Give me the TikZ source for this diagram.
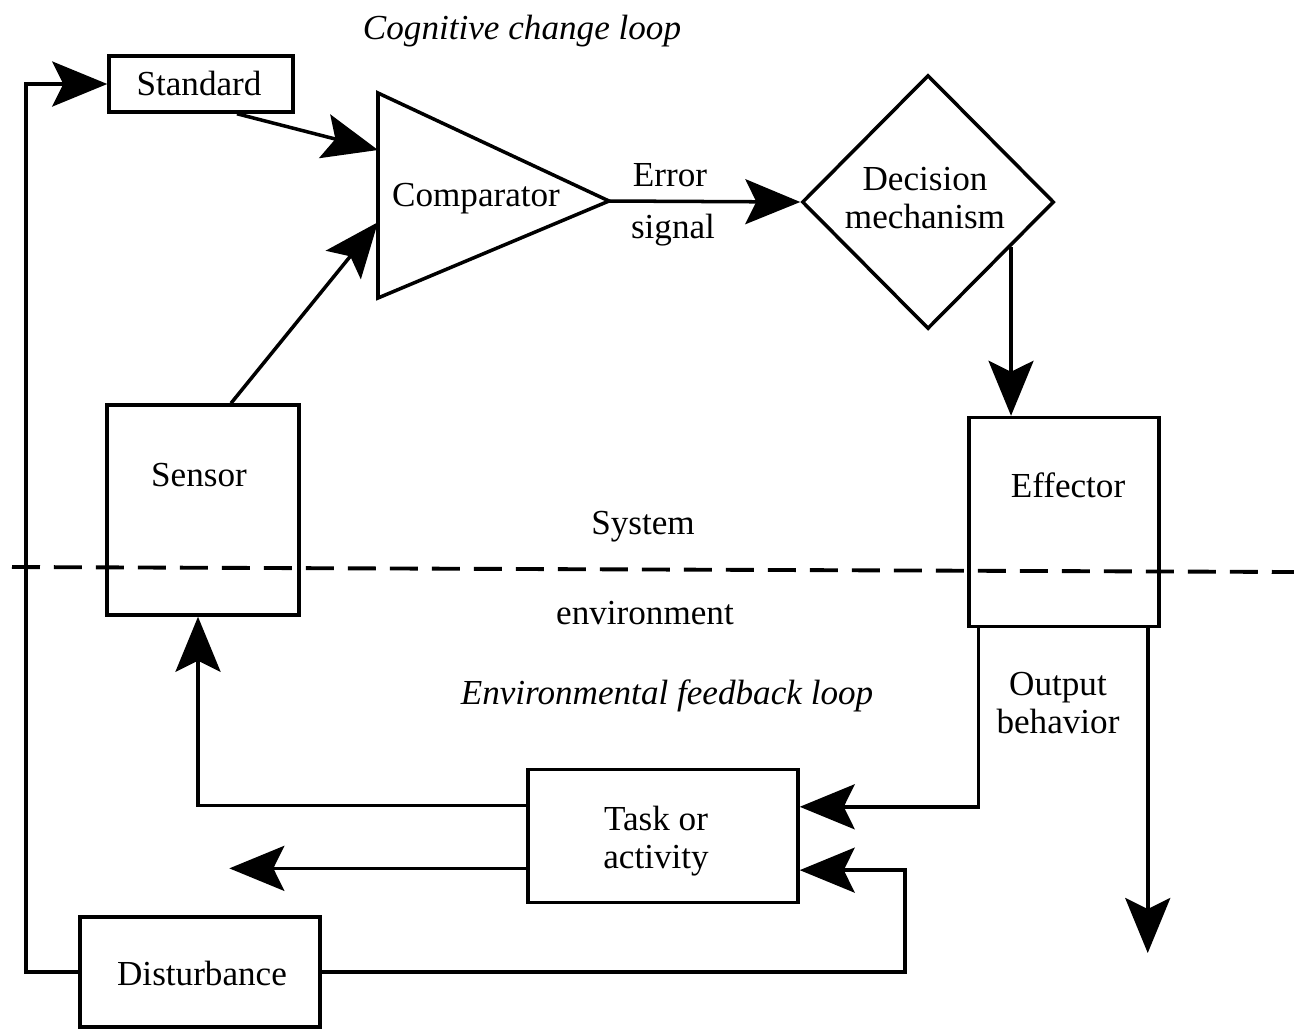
\documentclass[tikz,border=0pt]{standalone}
\usepackage{fontspec}
\setmainfont{Liberation Serif}
\usetikzlibrary{arrows.meta,shapes.geometric,calc}
\begin{document}
\begin{tikzpicture}[x=0.02cm,y=-0.02cm,
  every node/.style={font=\fontsize{20}{21.5}\selectfont},
  box/.style={draw,line width=2pt,inner sep=0pt},
  lbl/.style={align=center,inner sep=0pt},
  italbl/.style={lbl,font=\fontsize{20}{21.5}\selectfont\itshape},
  wire/.style={line width=2pt},
  arr/.style={wire,-{Stealth[length=1.1cm,width=0.9cm,inset=0.22cm]}},
  boundary/.style={line width=2.2pt,dash pattern=on 0.56cm off 0.28cm}]

\useasboundingbox (0,0) rectangle (1294,1029);

% --- cognitive change loop (system side) ---
\node[italbl] (cogloop) at (522,31) {Cognitive change loop};

\node[box,minimum width=3.68cm,minimum height=1.12cm] (standard) at (201,84) {};
\node[lbl] (standard-t) at (199,83) {Standard};

% comparator triangle
\coordinate (cmp-top) at (378,93);
\coordinate (cmp-bot) at (378,298);
\coordinate (cmp-tip) at (609,201);
\draw[wire,line join=miter] (cmp-top) -- (cmp-tip) -- (cmp-bot) -- cycle;
\node[lbl] (comparator) at (476,199) {Comparator};
\coordinate (cmp-in1) at ($(cmp-top)!0.278!(cmp-bot)$);
\coordinate (cmp-in2) at ($(cmp-top)!0.63!(cmp-bot)$);

% decision diamond
\node[diamond,draw,line width=2pt,inner sep=0pt,
      minimum width=5.04cm,minimum height=5.08cm] (decision) at (928,202) {};
\node[lbl] (decision-t) at (925,198) {Decision\\mechanism};

\node[lbl] (err-t) at (670,175) {Error};
\node[lbl] (sig-t) at (673,230) {signal};

% sensor and effector straddle the boundary
\node[box,minimum width=3.84cm,minimum height=4.2cm] (sensor) at (203,510) {};
\node[lbl] (sensor-t) at (199,475) {Sensor};
\node[box,minimum width=3.8cm,minimum height=4.18cm] (effector) at (1064,522) {};
\node[lbl] (effector-t) at (1068,485) {Effector};

% system / environment boundary
\draw[boundary] (12,567) -- (1294,572);
\node[lbl] (system-t) at (643,527) {System};
\node[lbl] (env-t) at (645,613) {environment};

% --- environmental feedback loop ---
\node[italbl] (envloop) at (667,696) {Environmental feedback loop};
\node[lbl] (output-t) at (1058,703) {Output\\behavior};

\node[box,minimum width=5.4cm,minimum height=2.66cm] (task) at (663,836) {};
\node[lbl] (task-t) at (656,841) {Task or\\activity};
\node[box,minimum width=4.8cm,minimum height=2.2cm] (disturbance) at (200,972) {};
\node[lbl] (disturbance-t) at (202,973) {Disturbance};

% connectors of the cognitive loop
\draw[arr] ([xshift=0.72cm]standard.south) -- (cmp-in1);
\draw[arr] ([xshift=0.56cm]sensor.north) -- (cmp-in2);
\draw[arr] (cmp-tip) -- (decision.west);
\coordinate (dm-out) at ($(decision.east)!0.35!(decision.south)$);
\draw[arr] (dm-out) -- (dm-out |- effector.north);

% connectors of the environmental loop
\coordinate (ef-l) at ([xshift=0.22cm]effector.south west);
\coordinate (ef-r) at ([xshift=-0.26cm]effector.south east);
\coordinate (tk-e1) at ($(task.north east)!0.286!(task.south east)$);
\coordinate (tk-e2) at ($(task.north east)!0.75!(task.south east)$);
\coordinate (tk-w1) at ($(task.north west)!0.278!(task.south west)$);
\coordinate (tk-w2) at ($(task.north west)!0.737!(task.south west)$);
\coordinate (act-out) at ([xshift=-5.94cm]tk-w2);
\coordinate (out-end) at (ef-r |- 0,953);
\coordinate (loop-r) at (905,0);
\coordinate (loop-l) at (26,0);

\draw[arr] (ef-l) |- (tk-e1);
\draw[arr] (ef-r) -- (out-end);
\draw[arr] (tk-w1) -| ([xshift=-0.1cm]sensor.south);
\draw[arr] (tk-w2) -- (act-out);
\draw[arr] (disturbance.east) -| (loop-r |- tk-e2) -- (tk-e2);
\draw[arr] (disturbance.west) -| (loop-l |- standard.west) -- (standard.west);

\end{tikzpicture}
\end{document}
